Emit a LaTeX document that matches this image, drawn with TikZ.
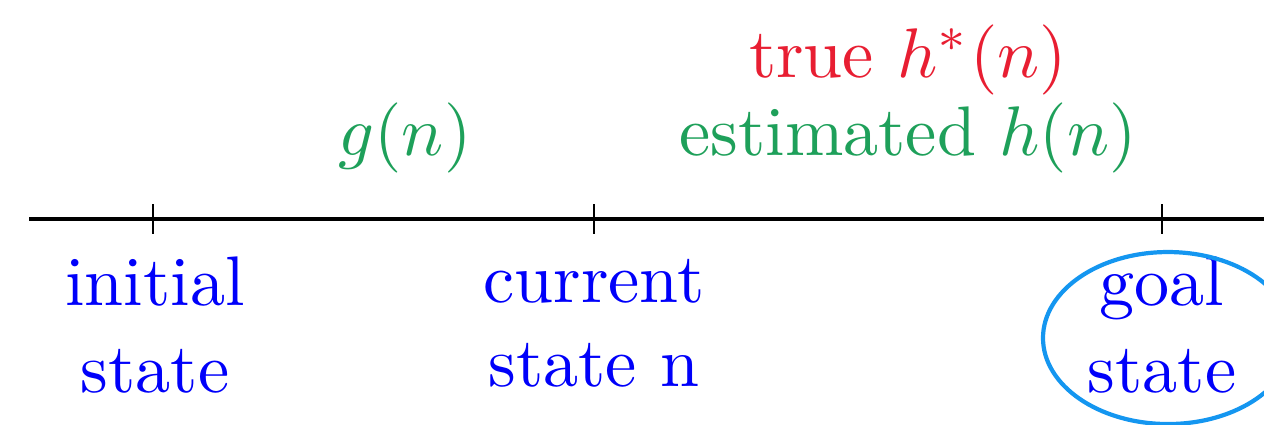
\documentclass[tikz,border=0pt]{standalone}
\usepackage{xcolor}
\definecolor{lblue}{RGB}{0,0,250}
\definecolor{lgreen}{RGB}{30,160,90}
\definecolor{lred}{RGB}{232,30,50}
\definecolor{ellblue}{RGB}{20,150,240}
\begin{document}
\begin{tikzpicture}[x=0.1425pt,y=-0.1425pt,
  lbl/.style={inner sep=0pt,anchor=base},
  st/.style={lbl,text=lblue},
  tick/.style={line width=0.4pt}]
\useasboundingbox (0,0) rectangle (1264,424);
\coordinate (L) at (29,219);
\coordinate (R) at (1264,219);
\draw[line width=0.45pt] (L) -- (R);
\coordinate (t1) at (153,219);
\coordinate (t2) at (594,219);
\coordinate (t3) at (1162,219);
\foreach \t in {t1,t2,t3} \draw[tick] ([yshift=2.1pt]\t) -- ([yshift=-2.1pt]\t);
\node[st] (i1) at (155,305) {initial};
\node[st] (i2) at (155,392) {state};
\node[st] (c1) at (594,302) {current};
\node[st] (c2) at (594,386) {state n};
\node[st] (g1) at (1162,305) {goal};
\node[st] (g2) at (1162,392) {state};
\node[lbl,text=lgreen] (gn) at (405,155) {$g(n)$};
\node[lbl,text=lred] (tr) at (908,77) {true $h^*(n)$};
\node[lbl,text=lgreen] (es) at (908,155) {estimated $h(n)$};
\begin{scope}
\clip (0,0) rectangle (1264,424);
\draw[ellblue,line width=0.6pt] (1168,338) ellipse [x radius=125, y radius=86];
\end{scope}
\end{tikzpicture}
\end{document}
